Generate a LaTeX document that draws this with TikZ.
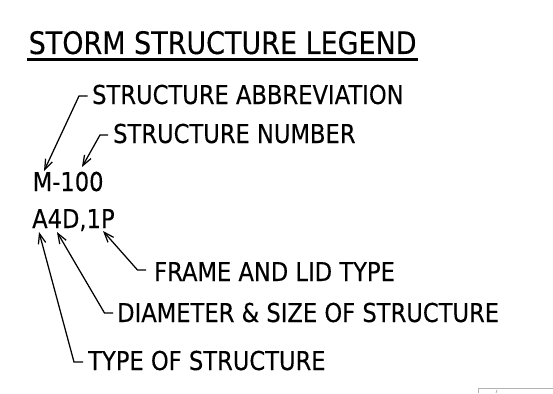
\documentclass[tikz,border=0pt]{standalone}
\usepackage{fontspec}
\usetikzlibrary{arrows.meta}
\newfontfamily\labfont[FakeStretch=0.87,FakeBold=0.2]{DejaVu Sans}
\tikzset{
  lbl/.style={anchor=base west, inner sep=0pt, font=\labfont\fontsize{26}{30}\selectfont},
  ttl/.style={anchor=base west, inner sep=0pt, font=\labfont\fontsize{31}{36}\selectfont},
  leader/.style={line width=1.25pt, -{Straight Barb[length=10pt,width=7.5pt,line width=1.25pt]}},
  artifact/.style={draw=black!30, line width=0.9pt}
}
\begin{document}
\begin{tikzpicture}[x=1pt,y=-1pt]
\useasboundingbox (0,0) rectangle (553,393);
\fill[white] (0,0) rectangle (553,393);
% title
\node[ttl] (title) at (28.5,54) {STORM STRUCTURE LEGEND};
\draw[line width=2.2pt] ([shift={(-1.5,5.5)}]title.base west) coordinate (u1) -- ([shift={(1,5.5)}]title.base east) coordinate (u2);
% codes
\node[lbl] (m100) at (32.5,191) {M-100};
\node[lbl] (a4d) at (32,228) {A4D,1P};
% labels
\node[lbl] (abbr) at (92,104) {STRUCTURE ABBREVIATION};
\node[lbl] (num) at (113,143) {STRUCTURE NUMBER};
\node[lbl] (frame) at (154,281) {FRAME AND LID TYPE};
\node[lbl] (diam) at (117,322) {DIAMETER \& SIZE OF STRUCTURE};
\node[lbl] (type) at (88,370) {TYPE OF STRUCTURE};
% tips
\coordinate (t1) at (44,171);
\coordinate (t2) at (82,167);
\coordinate (t3) at (103,231);
\coordinate (t4) at (57,232);
\coordinate (t5) at (39,232);
% leaders
\draw[leader] ([shift={(-4.5,-8)}]abbr.base west) -- ++(-8.5,0) -- (t1);
\draw[leader] ([shift={(-5,-8)}]num.base west) -- ++(-8,0) -- (t2);
\draw[leader] ([shift={(-8,-11)}]frame.base west) -- ++(-8.5,0) -- (t3);
\draw[leader] ([shift={(-4,-9)}]diam.base west) -- ++(-8.5,0) -- (t4);
\draw[leader] ([shift={(-5,-8)}]type.base west) -- ++(-9,0) -- (t5);
% cropped artifact at bottom right
\coordinate (g1) at (478,388);
\coordinate (g2) at (553,388);
\draw[artifact] (g1) -- (g2);
\draw[artifact] (g1) -- ++(0,5);
\draw[artifact] (497,390) -- ++(-1,3);
\end{tikzpicture}
\end{document}
